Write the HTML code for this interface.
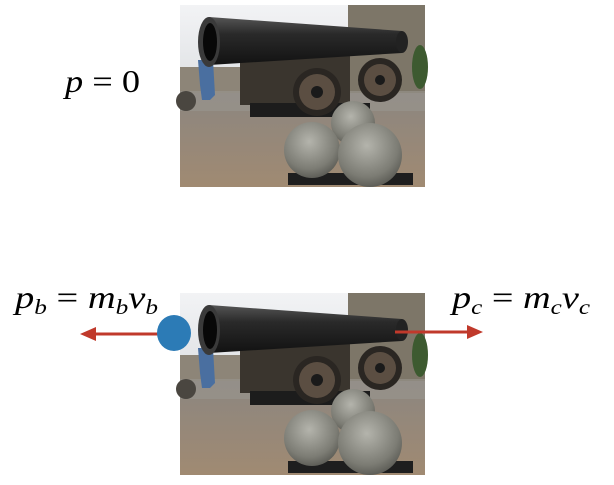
<!DOCTYPE html>
<html><head><meta charset="utf-8"><style>
html,body{margin:0;padding:0;background:#fff;}
svg{display:block;}
text{font-family:"Liberation Serif",serif;font-style:italic;}
</style></head><body>
<svg width="614" height="485" viewBox="0 0 614 485">
<defs>
<linearGradient id="sky" x1="0" y1="0" x2="0" y2="1"><stop offset="0" stop-color="#f2f3f5"/><stop offset="1" stop-color="#c9ccd0"/></linearGradient>
<linearGradient id="floor" x1="0" y1="0" x2="0" y2="1"><stop offset="0" stop-color="#8c8680"/><stop offset="1" stop-color="#a08a72"/></linearGradient>
<radialGradient id="ball" cx="0.45" cy="0.35" r="0.7"><stop offset="0" stop-color="#b4b4ac"/><stop offset="0.7" stop-color="#7c7c74"/><stop offset="1" stop-color="#55554f"/></radialGradient>
<linearGradient id="barrel" x1="0" y1="0" x2="0" y2="1"><stop offset="0" stop-color="#555"/><stop offset="0.35" stop-color="#2a2a2a"/><stop offset="1" stop-color="#121212"/></linearGradient>
<g id="photo">
<rect x="0" y="0" width="245" height="182" fill="url(#sky)"/>
<rect x="168" y="0" width="77" height="92" fill="#7d7668"/>
<rect x="0" y="62" width="60" height="30" fill="#8d8578"/>
<ellipse cx="240" cy="62" rx="8" ry="22" fill="#3d5a30"/>
<rect x="0" y="88" width="245" height="94" fill="url(#floor)"/>
<rect x="0" y="86" width="245" height="20" fill="#9a9690" opacity="0.6"/>
<path d="M18 55 L33 55 L35 90 L30 95 L22 95 L20 80 Z" fill="#4a6fa0"/>
<ellipse cx="6" cy="96" rx="10" ry="10" fill="#4a4640"/>
<rect x="60" y="45" width="110" height="55" fill="#3a352e"/>
<rect x="70" y="98" width="120" height="14" fill="#1c1c1c"/>
<path d="M29 12 L222 26 L222 48 L29 60 Z" fill="url(#barrel)"/>
<ellipse cx="222" cy="37" rx="6" ry="11" fill="#222"/>
<ellipse cx="29" cy="37" rx="11" ry="25" fill="#3a3a3a"/>
<ellipse cx="30" cy="37" rx="7" ry="19" fill="#080808"/>
<circle cx="137" cy="87" r="24" fill="#2a2622"/>
<circle cx="137" cy="87" r="18" fill="#5b4e42"/>
<circle cx="137" cy="87" r="6" fill="#1a1a1a"/>
<circle cx="200" cy="75" r="22" fill="#2a2622"/>
<circle cx="200" cy="75" r="16" fill="#5b4e42"/>
<circle cx="200" cy="75" r="5" fill="#1a1a1a"/>
<rect x="108" y="168" width="125" height="12" fill="#1e1e1e"/>
<circle cx="173" cy="118" r="22" fill="url(#ball)"/>
<circle cx="132" cy="145" r="28" fill="url(#ball)"/>
<circle cx="190" cy="150" r="32" fill="url(#ball)"/>
</g>
</defs>
<use href="#photo" x="180" y="5"/>
<use href="#photo" x="180" y="293"/>
<text x="65" y="92" font-size="32" textLength="75" lengthAdjust="spacingAndGlyphs">p <tspan font-style="normal">= 0</tspan></text>
<text x="15" y="308" font-size="32" textLength="143" lengthAdjust="spacingAndGlyphs">p<tspan font-size="21" dy="6">b</tspan><tspan dy="-6" font-style="normal"> = </tspan>m<tspan font-size="21" dy="6">b</tspan><tspan dy="-6">v</tspan><tspan font-size="21" dy="6">b</tspan></text>
<text x="452" y="308" font-size="32" textLength="138" lengthAdjust="spacingAndGlyphs">p<tspan font-size="21" dy="6">c</tspan><tspan dy="-6" font-style="normal"> = </tspan>m<tspan font-size="21" dy="6">c</tspan><tspan dy="-6">v</tspan><tspan font-size="21" dy="6">c</tspan></text>
<g>
<line x1="165" y1="334" x2="92" y2="334" stroke="#c0392b" stroke-width="3"/>
<polygon points="80,334 96,327 96,341" fill="#c0392b"/>
</g>
<g>
<line x1="395" y1="332" x2="470" y2="332" stroke="#c0392b" stroke-width="3"/>
<polygon points="483,332 467,325 467,339" fill="#c0392b"/>
</g>
<ellipse cx="174" cy="333" rx="17" ry="18" fill="#2c7bb6"/>
</svg>
</body></html>
